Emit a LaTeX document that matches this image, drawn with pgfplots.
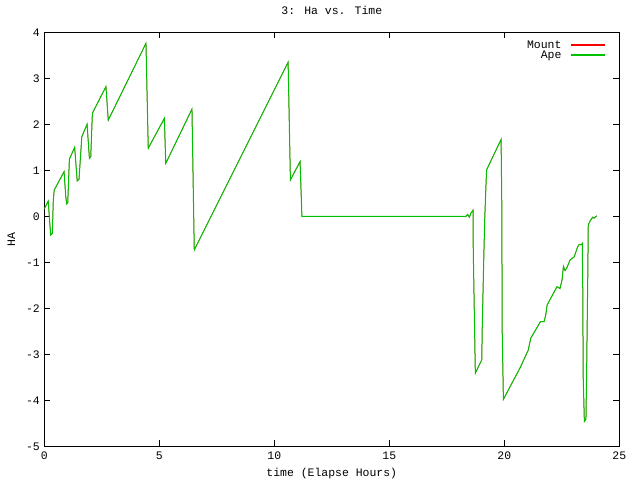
\documentclass[border=0pt]{standalone}
\usepackage{pgfplots}
\pgfplotsset{compat=1.18}
\usepackage{fontspec}
\setmainfont{Liberation Mono}
\definecolor{gpred}{RGB}{255,0,0}
\definecolor{gpgreen}{RGB}{0,192,0}
\pgfplotstableread{
t v
0 0.16
0.17 0.33
0.25 -0.23
0.28 -0.41
0.35 -0.37
0.39 0.33
0.43 0.57
0.86 0.97
0.93 0.45
0.97 0.27
1.02 0.30
1.09 1.24
1.32 1.50
1.43 0.77
1.51 0.81
1.63 1.73
1.86 2.00
1.96 1.26
2.02 1.30
2.09 2.24
2.68 2.82
2.78 2.09
4.42 3.76
4.52 1.48
5.22 2.13
5.28 1.15
6.42 2.33
6.52 -0.73
10.60 3.35
10.70 0.79
11.12 1.19
11.20 0.0
18.33 0.0
18.41 0.04
18.48 -0.02
18.55 0.07
18.64 0.13
18.65 -0.73
18.71 -2.52
18.74 -3.41
19.02 -3.12
19.04 -2.43
19.10 -1.06
19.15 -0.04
19.20 0.64
19.23 1.01
19.86 1.67
19.89 0.28
19.91 -2.54
19.96 -3.98
20.17 -3.78
20.70 -3.28
21.04 -2.91
21.15 -2.65
21.36 -2.47
21.57 -2.29
21.73 -2.29
21.80 -2.15
21.86 -1.93
22.29 -1.53
22.42 -1.57
22.51 -1.38
22.57 -1.09
22.64 -1.18
22.71 -1.13
22.86 -0.95
23.04 -0.88
23.19 -0.66
23.26 -0.61
23.38 -0.62
23.39 -0.57
23.41 -1.53
23.43 -3.49
23.48 -4.46
23.55 -4.41
23.58 -3.34
23.63 -1.24
23.65 -0.19
23.73 -0.10
23.84 -0.02
23.90 -0.04
24.02 0.01
}\hadata
\begin{document}
\begin{tikzpicture}[x=1bp,y=1bp]
\path (0,0) rectangle (640,480);
\begin{axis}[
  at={(44.3bp,33.7bp)}, anchor=south west,
  scale only axis, width=575bp, height=414bp,
  xmin=0, xmax=25, ymin=-5, ymax=4,
  xtick={0,5,10,15,20,25},
  xticklabels={0,5,10,15,20,25},
  ytick={-5,-4,-3,-2,-1,0,1,2,3,4},
  yticklabels={-5,-4,-3,-2,-1,0,1,2,3,4},
  tick align=inside, major tick length=6bp,
  axis line style={line width=1bp, black},
  every tick/.style={line width=1bp, black},
  font=\fontsize{11.5}{12}\selectfont,
  xticklabel style={yshift=-2bp},
  yticklabel style={xshift=-1bp},
  title={3: Ha vs. Time},
  title style={at={(axis description cs:0.5,1)}, anchor=base, yshift=12bp},
  xlabel={time (Elapse Hours)},
  xlabel style={at={(axis description cs:0.5,0)}, anchor=base, yshift=-30bp},
  ylabel={HA},
  ylabel style={at={(axis description cs:-0.0574,0.5)}, anchor=center},
  legend style={at={(axis description cs:1,1)}, anchor=north east, xshift=-10bp, yshift=-4bp, draw=none, fill=none, font=\fontsize{11.5}{11}\selectfont, row sep=-3bp},
  legend cell align=right,
  legend plot pos=right,
  legend image code/.code={\path[draw=none] (0bp,0bp) -- (42bp,0bp); \draw[#1, line width=1.5bp] (8bp,0bp) -- (42bp,0bp);},
]
\addplot[gpred, line width=0.5bp] table[x=t,y=v] {\hadata};
\addlegendentry{Mount}
\addplot[gpgreen, line width=1bp] table[x=t,y=v] {\hadata};
\addlegendentry{Ape}
\end{axis}
\end{tikzpicture}
\end{document}
